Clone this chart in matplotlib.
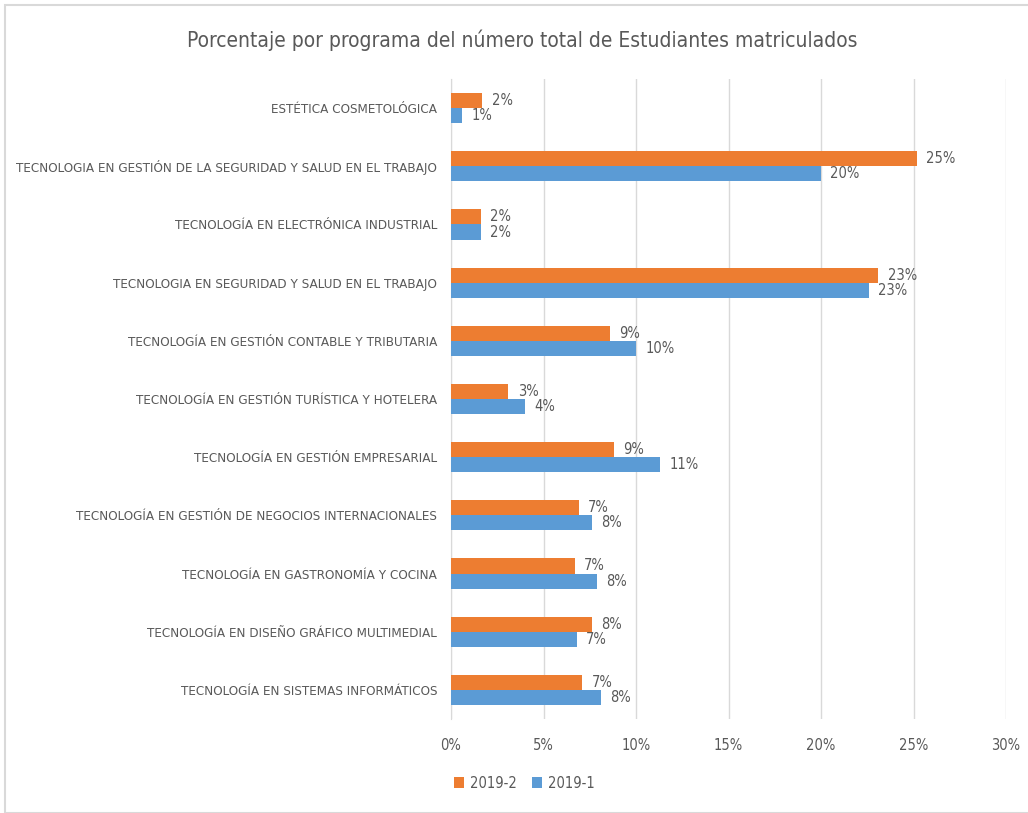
import matplotlib
matplotlib.use("Agg")
import matplotlib.pyplot as plt
import numpy as np
from matplotlib.patches import Rectangle

plt.rcParams['font.family'] = ['DejaVu Sans']
plt.rcParams['font.stretch'] = 'condensed'

categories = [
    "ESTÉTICA COSMETOLÓGICA",
    "TECNOLOGIA EN GESTIÓN DE LA SEGURIDAD Y SALUD EN EL TRABAJO",
    "TECNOLOGÍA EN ELECTRÓNICA INDUSTRIAL",
    "TECNOLOGIA EN SEGURIDAD Y SALUD EN EL TRABAJO",
    "TECNOLOGÍA EN GESTIÓN CONTABLE Y TRIBUTARIA",
    "TECNOLOGÍA EN GESTIÓN TURÍSTICA Y HOTELERA",
    "TECNOLOGÍA EN GESTIÓN EMPRESARIAL",
    "TECNOLOGÍA EN GESTIÓN DE NEGOCIOS INTERNACIONALES",
    "TECNOLOGÍA EN GASTRONOMÍA Y COCINA",
    "TECNOLOGÍA EN DISEÑO GRÁFICO MULTIMEDIAL",
    "TECNOLOGÍA EN SISTEMAS INFORMÁTICOS",
]
s2019_2 = [1.7, 25.2, 1.6, 23.1, 8.6, 3.1, 8.8, 6.9, 6.7, 7.6, 7.1]
s2019_1 = [0.6, 20.0, 1.6, 22.6, 10.0, 4.0, 11.3, 7.6, 7.9, 6.8, 8.1]
xticks = [0, 5, 10, 15, 20, 25, 30]

orange = "#ED7D31"
blue = "#5B9BD5"
txt = "#595959"

fig = plt.figure(figsize=(10.28, 8.13), dpi=100)
ax = fig.add_axes([451/1028, 1-719/813, (1006-451)/1028, (719-79)/813])

y = np.arange(len(categories))
h = 0.26
ax.barh(y - h/2, s2019_2, height=h, color=orange, label="2019-2", zorder=3)
ax.barh(y + h/2, s2019_1, height=h, color=blue, label="2019-1", zorder=3)

for yi, v in zip(y, s2019_2):
    ax.text(v + 0.5, yi - h/2, f"{round(v):.0f}%", va="center", ha="left",
            fontsize=10.5, color=txt)
for yi, v in zip(y, s2019_1):
    ax.text(v + 0.5, yi + h/2, f"{round(v):.0f}%", va="center", ha="left",
            fontsize=10.5, color=txt)

ax.set_ylim(len(categories) - 0.5, -0.5)
ax.set_xlim(0, 30)
ax.set_yticks(y)
ax.set_yticklabels(categories, fontsize=9.6, color=txt)
ax.set_xticks(xticks)
ax.set_xticklabels([f"{t}%" for t in xticks], fontsize=10.5, color=txt)
ax.tick_params(axis="both", length=0)
ax.tick_params(axis="x", pad=14)
ax.tick_params(axis="y", pad=10)
ax.grid(axis="x", color="#D9D9D9", linewidth=1, zorder=0)
for sp in ["top", "right", "bottom"]:
    ax.spines[sp].set_visible(False)
ax.spines["left"].set_color("#D9D9D9")

fig.text(0.508, 1-40/813, "Porcentaje por programa del número total de Estudiantes matriculados",
         ha="center", va="center", fontsize=15, color=txt)

leg = fig.legend(loc="center", bbox_to_anchor=(0.510, 1-783/813), ncol=2, frameon=False,
                 fontsize=10.5, handlelength=0.7, handleheight=0.7, handletextpad=0.4,
                 columnspacing=1.0, labelcolor=txt)

fig.patches.append(Rectangle((5/1028, 0.0), 1, 1-5/813, transform=fig.transFigure,
                             fill=False, edgecolor="#D9D9D9", linewidth=1.5))

fig.savefig("out.png", dpi=100)
